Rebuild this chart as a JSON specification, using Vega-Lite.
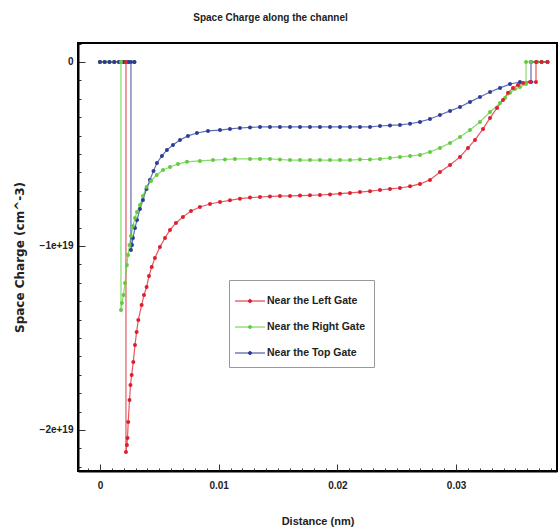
{
  "$schema": "https://vega.github.io/schema/vega-lite/v6.json",
  "autosize": "none",
  "padding": {"left": 78, "top": 43, "right": 1, "bottom": 60},
  "width": 479,
  "height": 428,
  "background": "white",
  "title": {"text": "Space Charge along the channel", "font": "Liberation Sans", "fontSize": 10, "fontWeight": "bold", "color": "#222", "anchor": "middle", "dx": -47, "offset": 20},
  "config": {
    "view": {"stroke": "black", "strokeWidth": 2},
    "axis": {"grid": false, "domainColor": "black", "domainWidth": 2, "tickColor": "#333", "labelFont": "Liberation Sans", "labelFontWeight": "bold", "labelFontSize": 10, "labelColor": "#222", "titleFont": "Liberation Sans", "titleFontWeight": "bold", "titleColor": "#222"}
  },
  "data": {"values": [
    {"g":"Near the Left Gate","i":0,"x":0,"y":0},
    {"g":"Near the Left Gate","i":1,"x":0.0004,"y":0},
    {"g":"Near the Left Gate","i":2,"x":0.0008,"y":0},
    {"g":"Near the Left Gate","i":3,"x":0.0012,"y":0},
    {"g":"Near the Left Gate","i":4,"x":0.0016,"y":0},
    {"g":"Near the Left Gate","i":5,"x":0.002,"y":0},
    {"g":"Near the Left Gate","i":6,"x":0.0024,"y":0},
    {"g":"Near the Left Gate","i":7,"x":0.0029,"y":0},
    {"g":"Near the Left Gate","i":8,"x":0.00219,"y":0},
    {"g":"Near the Left Gate","i":9,"x":0.00219,"y":-2.12e19},
    {"g":"Near the Left Gate","i":10,"x":0.00227,"y":-2.082e19},
    {"g":"Near the Left Gate","i":11,"x":0.00232,"y":-2.043e19},
    {"g":"Near the Left Gate","i":12,"x":0.00238,"y":-1.957e19},
    {"g":"Near the Left Gate","i":13,"x":0.00249,"y":-1.837e19},
    {"g":"Near the Left Gate","i":14,"x":0.00257,"y":-1.755e19},
    {"g":"Near the Left Gate","i":15,"x":0.00267,"y":-1.701e19},
    {"g":"Near the Left Gate","i":16,"x":0.00281,"y":-1.63e19},
    {"g":"Near the Left Gate","i":17,"x":0.00295,"y":-1.538e19},
    {"g":"Near the Left Gate","i":18,"x":0.00309,"y":-1.467e19},
    {"g":"Near the Left Gate","i":19,"x":0.00323,"y":-1.402e19},
    {"g":"Near the Left Gate","i":20,"x":0.00351,"y":-1.321e19},
    {"g":"Near the Left Gate","i":21,"x":0.00371,"y":-1.266e19},
    {"g":"Near the Left Gate","i":22,"x":0.00393,"y":-1.223e19},
    {"g":"Near the Left Gate","i":23,"x":0.00413,"y":-1.163e19},
    {"g":"Near the Left Gate","i":24,"x":0.00436,"y":-1.114e19},
    {"g":"Near the Left Gate","i":25,"x":0.00463,"y":-1.065e19},
    {"g":"Near the Left Gate","i":26,"x":0.00505,"y":-1.005e19},
    {"g":"Near the Left Gate","i":27,"x":0.00548,"y":-0.957e19},
    {"g":"Near the Left Gate","i":28,"x":0.0059,"y":-0.913e19},
    {"g":"Near the Left Gate","i":29,"x":0.0064,"y":-0.875e19},
    {"g":"Near the Left Gate","i":30,"x":0.00699,"y":-0.842e19},
    {"g":"Near the Left Gate","i":31,"x":0.00767,"y":-0.81e19},
    {"g":"Near the Left Gate","i":32,"x":0.00842,"y":-0.788e19},
    {"g":"Near the Left Gate","i":33,"x":0.00927,"y":-0.772e19},
    {"g":"Near the Left Gate","i":34,"x":0.01011,"y":-0.761e19},
    {"g":"Near the Left Gate","i":35,"x":0.01095,"y":-0.752e19},
    {"g":"Near the Left Gate","i":36,"x":0.01179,"y":-0.743e19},
    {"g":"Near the Left Gate","i":37,"x":0.01264,"y":-0.737e19},
    {"g":"Near the Left Gate","i":38,"x":0.01348,"y":-0.734e19},
    {"g":"Near the Left Gate","i":39,"x":0.01432,"y":-0.731e19},
    {"g":"Near the Left Gate","i":40,"x":0.01516,"y":-0.729e19},
    {"g":"Near the Left Gate","i":41,"x":0.01601,"y":-0.728e19},
    {"g":"Near the Left Gate","i":42,"x":0.01685,"y":-0.726e19},
    {"g":"Near the Left Gate","i":43,"x":0.01769,"y":-0.725e19},
    {"g":"Near the Left Gate","i":44,"x":0.01853,"y":-0.723e19},
    {"g":"Near the Left Gate","i":45,"x":0.01938,"y":-0.72e19},
    {"g":"Near the Left Gate","i":46,"x":0.02022,"y":-0.716e19},
    {"g":"Near the Left Gate","i":47,"x":0.02106,"y":-0.712e19},
    {"g":"Near the Left Gate","i":48,"x":0.0219,"y":-0.707e19},
    {"g":"Near the Left Gate","i":49,"x":0.02275,"y":-0.702e19},
    {"g":"Near the Left Gate","i":50,"x":0.02359,"y":-0.696e19},
    {"g":"Near the Left Gate","i":51,"x":0.02443,"y":-0.69e19},
    {"g":"Near the Left Gate","i":52,"x":0.02527,"y":-0.685e19},
    {"g":"Near the Left Gate","i":53,"x":0.02612,"y":-0.676e19},
    {"g":"Near the Left Gate","i":54,"x":0.02696,"y":-0.663e19},
    {"g":"Near the Left Gate","i":55,"x":0.0278,"y":-0.641e19},
    {"g":"Near the Left Gate","i":56,"x":0.02864,"y":-0.598e19},
    {"g":"Near the Left Gate","i":57,"x":0.02949,"y":-0.56e19},
    {"g":"Near the Left Gate","i":58,"x":0.03033,"y":-0.516e19},
    {"g":"Near the Left Gate","i":59,"x":0.031,"y":-0.467e19},
    {"g":"Near the Left Gate","i":60,"x":0.03159,"y":-0.424e19},
    {"g":"Near the Left Gate","i":61,"x":0.03227,"y":-0.364e19},
    {"g":"Near the Left Gate","i":62,"x":0.03286,"y":-0.304e19},
    {"g":"Near the Left Gate","i":63,"x":0.03345,"y":-0.25e19},
    {"g":"Near the Left Gate","i":64,"x":0.03395,"y":-0.207e19},
    {"g":"Near the Left Gate","i":65,"x":0.03437,"y":-0.168e19},
    {"g":"Near the Left Gate","i":66,"x":0.03479,"y":-0.141e19},
    {"g":"Near the Left Gate","i":67,"x":0.03521,"y":-0.125e19},
    {"g":"Near the Left Gate","i":68,"x":0.03564,"y":-0.114e19},
    {"g":"Near the Left Gate","i":69,"x":0.03623,"y":-0.109e19},
    {"g":"Near the Left Gate","i":70,"x":0.03673,"y":-0.109e19},
    {"g":"Near the Left Gate","i":71,"x":0.03673,"y":0},
    {"g":"Near the Left Gate","i":72,"x":0.0372,"y":0},
    {"g":"Near the Left Gate","i":73,"x":0.0377,"y":0},

    {"g":"Near the Right Gate","i":0,"x":0,"y":0},
    {"g":"Near the Right Gate","i":1,"x":0.0004,"y":0},
    {"g":"Near the Right Gate","i":2,"x":0.0008,"y":0},
    {"g":"Near the Right Gate","i":3,"x":0.0012,"y":0},
    {"g":"Near the Right Gate","i":4,"x":0.0016,"y":0},
    {"g":"Near the Right Gate","i":5,"x":0.002,"y":0},
    {"g":"Near the Right Gate","i":6,"x":0.0024,"y":0},
    {"g":"Near the Right Gate","i":7,"x":0.0029,"y":0},
    {"g":"Near the Right Gate","i":8,"x":0.00177,"y":0},
    {"g":"Near the Right Gate","i":9,"x":0.00177,"y":-1.348e19},
    {"g":"Near the Right Gate","i":10,"x":0.00185,"y":-1.31e19},
    {"g":"Near the Right Gate","i":11,"x":0.00198,"y":-1.266e19},
    {"g":"Near the Right Gate","i":12,"x":0.00211,"y":-1.201e19},
    {"g":"Near the Right Gate","i":13,"x":0.00227,"y":-1.103e19},
    {"g":"Near the Right Gate","i":14,"x":0.00236,"y":-1.049e19},
    {"g":"Near the Right Gate","i":15,"x":0.00249,"y":-0.995e19},
    {"g":"Near the Right Gate","i":16,"x":0.00261,"y":-0.946e19},
    {"g":"Near the Right Gate","i":17,"x":0.00278,"y":-0.891e19},
    {"g":"Near the Right Gate","i":18,"x":0.00295,"y":-0.848e19},
    {"g":"Near the Right Gate","i":19,"x":0.00312,"y":-0.815e19},
    {"g":"Near the Right Gate","i":20,"x":0.00337,"y":-0.777e19},
    {"g":"Near the Right Gate","i":21,"x":0.00362,"y":-0.728e19},
    {"g":"Near the Right Gate","i":22,"x":0.00393,"y":-0.679e19},
    {"g":"Near the Right Gate","i":23,"x":0.0043,"y":-0.647e19},
    {"g":"Near the Right Gate","i":24,"x":0.00478,"y":-0.614e19},
    {"g":"Near the Right Gate","i":25,"x":0.00531,"y":-0.587e19},
    {"g":"Near the Right Gate","i":26,"x":0.0059,"y":-0.571e19},
    {"g":"Near the Right Gate","i":27,"x":0.00657,"y":-0.554e19},
    {"g":"Near the Right Gate","i":28,"x":0.00733,"y":-0.543e19},
    {"g":"Near the Right Gate","i":29,"x":0.00842,"y":-0.538e19},
    {"g":"Near the Right Gate","i":30,"x":0.00952,"y":-0.533e19},
    {"g":"Near the Right Gate","i":31,"x":0.01053,"y":-0.53e19},
    {"g":"Near the Right Gate","i":32,"x":0.01137,"y":-0.527e19},
    {"g":"Near the Right Gate","i":33,"x":0.01264,"y":-0.527e19},
    {"g":"Near the Right Gate","i":34,"x":0.01348,"y":-0.527e19},
    {"g":"Near the Right Gate","i":35,"x":0.01432,"y":-0.527e19},
    {"g":"Near the Right Gate","i":36,"x":0.01516,"y":-0.53e19},
    {"g":"Near the Right Gate","i":37,"x":0.01601,"y":-0.533e19},
    {"g":"Near the Right Gate","i":38,"x":0.01685,"y":-0.533e19},
    {"g":"Near the Right Gate","i":39,"x":0.01769,"y":-0.533e19},
    {"g":"Near the Right Gate","i":40,"x":0.01853,"y":-0.533e19},
    {"g":"Near the Right Gate","i":41,"x":0.01938,"y":-0.533e19},
    {"g":"Near the Right Gate","i":42,"x":0.02022,"y":-0.533e19},
    {"g":"Near the Right Gate","i":43,"x":0.02106,"y":-0.533e19},
    {"g":"Near the Right Gate","i":44,"x":0.0219,"y":-0.53e19},
    {"g":"Near the Right Gate","i":45,"x":0.02275,"y":-0.53e19},
    {"g":"Near the Right Gate","i":46,"x":0.02359,"y":-0.527e19},
    {"g":"Near the Right Gate","i":47,"x":0.02443,"y":-0.522e19},
    {"g":"Near the Right Gate","i":48,"x":0.02527,"y":-0.516e19},
    {"g":"Near the Right Gate","i":49,"x":0.02612,"y":-0.511e19},
    {"g":"Near the Right Gate","i":50,"x":0.02696,"y":-0.505e19},
    {"g":"Near the Right Gate","i":51,"x":0.0278,"y":-0.489e19},
    {"g":"Near the Right Gate","i":52,"x":0.02864,"y":-0.467e19},
    {"g":"Near the Right Gate","i":53,"x":0.02949,"y":-0.44e19},
    {"g":"Near the Right Gate","i":54,"x":0.03033,"y":-0.408e19},
    {"g":"Near the Right Gate","i":55,"x":0.03117,"y":-0.37e19},
    {"g":"Near the Right Gate","i":56,"x":0.03201,"y":-0.326e19},
    {"g":"Near the Right Gate","i":57,"x":0.03286,"y":-0.272e19},
    {"g":"Near the Right Gate","i":58,"x":0.0337,"y":-0.223e19},
    {"g":"Near the Right Gate","i":59,"x":0.03412,"y":-0.196e19},
    {"g":"Near the Right Gate","i":60,"x":0.03454,"y":-0.168e19},
    {"g":"Near the Right Gate","i":61,"x":0.03496,"y":-0.147e19},
    {"g":"Near the Right Gate","i":62,"x":0.03538,"y":-0.136e19},
    {"g":"Near the Right Gate","i":63,"x":0.03589,"y":-0.12e19},
    {"g":"Near the Right Gate","i":64,"x":0.03589,"y":0},
    {"g":"Near the Right Gate","i":65,"x":0.0363,"y":0},
    {"g":"Near the Right Gate","i":66,"x":0.0368,"y":0},
    {"g":"Near the Right Gate","i":67,"x":0.0372,"y":0},
    {"g":"Near the Right Gate","i":68,"x":0.0377,"y":0},

    {"g":"Near the Top Gate","i":0,"x":0,"y":0},
    {"g":"Near the Top Gate","i":1,"x":0.0004,"y":0},
    {"g":"Near the Top Gate","i":2,"x":0.0008,"y":0},
    {"g":"Near the Top Gate","i":3,"x":0.0012,"y":0},
    {"g":"Near the Top Gate","i":4,"x":0.0016,"y":0},
    {"g":"Near the Top Gate","i":5,"x":0.002,"y":0},
    {"g":"Near the Top Gate","i":6,"x":0.0024,"y":0},
    {"g":"Near the Top Gate","i":7,"x":0.0029,"y":0},
    {"g":"Near the Top Gate","i":8,"x":0.00261,"y":0},
    {"g":"Near the Top Gate","i":9,"x":0.00261,"y":-1.022e19},
    {"g":"Near the Top Gate","i":10,"x":0.0027,"y":-0.995e19},
    {"g":"Near the Top Gate","i":11,"x":0.00278,"y":-0.957e19},
    {"g":"Near the Top Gate","i":12,"x":0.00295,"y":-0.902e19},
    {"g":"Near the Top Gate","i":13,"x":0.00312,"y":-0.859e19},
    {"g":"Near the Top Gate","i":14,"x":0.00337,"y":-0.799e19},
    {"g":"Near the Top Gate","i":15,"x":0.00362,"y":-0.75e19},
    {"g":"Near the Top Gate","i":16,"x":0.00392,"y":-0.69e19},
    {"g":"Near the Top Gate","i":17,"x":0.00421,"y":-0.641e19},
    {"g":"Near the Top Gate","i":18,"x":0.00451,"y":-0.592e19},
    {"g":"Near the Top Gate","i":19,"x":0.0048,"y":-0.549e19},
    {"g":"Near the Top Gate","i":20,"x":0.00522,"y":-0.511e19},
    {"g":"Near the Top Gate","i":21,"x":0.00564,"y":-0.478e19},
    {"g":"Near the Top Gate","i":22,"x":0.00615,"y":-0.451e19},
    {"g":"Near the Top Gate","i":23,"x":0.00674,"y":-0.424e19},
    {"g":"Near the Top Gate","i":24,"x":0.00741,"y":-0.402e19},
    {"g":"Near the Top Gate","i":25,"x":0.00817,"y":-0.386e19},
    {"g":"Near the Top Gate","i":26,"x":0.0091,"y":-0.375e19},
    {"g":"Near the Top Gate","i":27,"x":0.01011,"y":-0.37e19},
    {"g":"Near the Top Gate","i":28,"x":0.01095,"y":-0.364e19},
    {"g":"Near the Top Gate","i":29,"x":0.01179,"y":-0.359e19},
    {"g":"Near the Top Gate","i":30,"x":0.01264,"y":-0.356e19},
    {"g":"Near the Top Gate","i":31,"x":0.01348,"y":-0.353e19},
    {"g":"Near the Top Gate","i":32,"x":0.01432,"y":-0.353e19},
    {"g":"Near the Top Gate","i":33,"x":0.01516,"y":-0.353e19},
    {"g":"Near the Top Gate","i":34,"x":0.01601,"y":-0.353e19},
    {"g":"Near the Top Gate","i":35,"x":0.01685,"y":-0.353e19},
    {"g":"Near the Top Gate","i":36,"x":0.01769,"y":-0.353e19},
    {"g":"Near the Top Gate","i":37,"x":0.01853,"y":-0.353e19},
    {"g":"Near the Top Gate","i":38,"x":0.01938,"y":-0.353e19},
    {"g":"Near the Top Gate","i":39,"x":0.02022,"y":-0.353e19},
    {"g":"Near the Top Gate","i":40,"x":0.02106,"y":-0.353e19},
    {"g":"Near the Top Gate","i":41,"x":0.0219,"y":-0.353e19},
    {"g":"Near the Top Gate","i":42,"x":0.02275,"y":-0.353e19},
    {"g":"Near the Top Gate","i":43,"x":0.02359,"y":-0.348e19},
    {"g":"Near the Top Gate","i":44,"x":0.02443,"y":-0.345e19},
    {"g":"Near the Top Gate","i":45,"x":0.02527,"y":-0.342e19},
    {"g":"Near the Top Gate","i":46,"x":0.02612,"y":-0.336e19},
    {"g":"Near the Top Gate","i":47,"x":0.02696,"y":-0.326e19},
    {"g":"Near the Top Gate","i":48,"x":0.0278,"y":-0.31e19},
    {"g":"Near the Top Gate","i":49,"x":0.02864,"y":-0.288e19},
    {"g":"Near the Top Gate","i":50,"x":0.02949,"y":-0.266e19},
    {"g":"Near the Top Gate","i":51,"x":0.03033,"y":-0.245e19},
    {"g":"Near the Top Gate","i":52,"x":0.03117,"y":-0.217e19},
    {"g":"Near the Top Gate","i":53,"x":0.03201,"y":-0.19e19},
    {"g":"Near the Top Gate","i":54,"x":0.03286,"y":-0.163e19},
    {"g":"Near the Top Gate","i":55,"x":0.0337,"y":-0.141e19},
    {"g":"Near the Top Gate","i":56,"x":0.03454,"y":-0.12e19},
    {"g":"Near the Top Gate","i":57,"x":0.03538,"y":-0.109e19},
    {"g":"Near the Top Gate","i":58,"x":0.03631,"y":-0.109e19},
    {"g":"Near the Top Gate","i":59,"x":0.03631,"y":0},
    {"g":"Near the Top Gate","i":60,"x":0.0368,"y":0},
    {"g":"Near the Top Gate","i":61,"x":0.0372,"y":0},
    {"g":"Near the Top Gate","i":62,"x":0.0377,"y":0}
  ]},
  "mark": {"type": "line", "strokeWidth": 1.2, "strokeOpacity": 0.75, "clip": true, "point": {"filled": true, "size": 16, "opacity": 1}},
  "encoding": {
    "x": {"field": "x", "type": "quantitative",
      "scale": {"domain": [-0.00185, 0.0385], "nice": false, "zero": false},
      "axis": {"title": "Distance (nm)", "titleFontSize": 11, "titlePadding": 25,
        "values": [-0.001,0,0.001,0.002,0.003,0.004,0.005,0.006,0.007,0.008,0.009,0.01,0.011,0.012,0.013,0.014,0.015,0.016,0.017,0.018,0.019,0.02,0.021,0.022,0.023,0.024,0.025,0.026,0.027,0.028,0.029,0.03,0.031,0.032,0.033,0.034,0.035,0.036,0.037,0.038],
        "labelExpr": "abs(datum.value*100 - round(datum.value*100)) < 1e-6 ? (datum.value == 0 ? '0' : format(datum.value, '.2')) : ''",
        "tickSize": {"condition": {"test": "abs(datum.value*100 - round(datum.value*100)) < 1e-6", "value": -7}, "value": -3},
        "labelPadding": 16}},
    "y": {"field": "y", "type": "quantitative",
      "scale": {"domain": [-2.223e19, 0.103e19], "nice": false, "zero": false},
      "axis": {"title": "Space Charge (cm^-3)", "titleFont": "DejaVu Sans", "titleFontSize": 12, "titlePadding": 13,
        "values": [1e18,0,-1e18,-2e18,-3e18,-4e18,-5e18,-6e18,-7e18,-8e18,-9e18,-1e19,-1.1e19,-1.2e19,-1.3e19,-1.4e19,-1.5e19,-1.6e19,-1.7e19,-1.8e19,-1.9e19,-2e19,-2.1e19,-2.2e19],
        "labelExpr": "abs(datum.value/1e19 - round(datum.value/1e19)) < 1e-6 ? (datum.value == 0 ? '0' : format(datum.value, '.0e')) : ''",
        "tickSize": {"condition": {"test": "abs(datum.value/1e19 - round(datum.value/1e19)) < 1e-6", "value": -7}, "value": -3},
        "labelPadding": 12}},
    "color": {"field": "g", "type": "nominal",
      "scale": {"domain": ["Near the Left Gate", "Near the Right Gate", "Near the Top Gate"], "range": ["#dd1f2d", "#62cc3f", "#2b3c96"]},
      "legend": {"title": null, "orient": "none", "legendX": 151, "legendY": 237, "strokeColor": "#999", "fillColor": "white", "padding": 8,
        "labelFont": "Liberation Sans", "labelFontWeight": "bold", "labelFontSize": 10.5, "labelColor": "#222", "labelOffset": 4,
        "symbolType": "M-1.2,0L1.2,0M-0.13,0A0.13,0.13,0,1,0,0.13,0A0.13,0.13,0,1,0,-0.13,0",
        "symbolSize": 625, "symbolStrokeWidth": 1, "rowPadding": 7}},
    "order": {"field": "i", "type": "quantitative"}
  }
}
